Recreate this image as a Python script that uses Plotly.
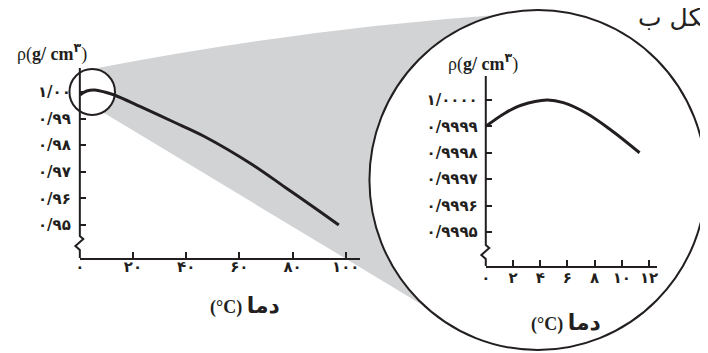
import plotly.graph_objects as go

# density of water, full range (left) and zoomed 0-12 C (right)
temp_full = [0, 2.6, 5.6, 9.3, 13, 23, 35.3, 46.5, 65.1, 77.3, 90, 97.4]
rho_full = [0.99887, 1.00038, 1.00075, 1.0000, 0.99887, 0.99436, 0.98872,
            0.98346, 0.97256, 0.96410, 0.95526, 0.95000]

temp_zoom = [0, 1.4, 2.6, 4.5, 5.7, 7.4, 9.1, 11.3]
rho_zoom = [0.99990, 0.99995, 0.99998, 1.00000, 0.99999, 0.99995, 0.99989, 0.99980]

full_xticks = [0, 20, 40, 60, 80, 100]
full_xtext = ["۰", "۲۰", "۴۰", "۶۰", "۸۰", "۱۰۰"]
full_yticks = [1.00, 0.99, 0.98, 0.97, 0.96, 0.95]
full_ytext = ["۱/۰۰", "۰/۹۹", "۰/۹۸", "۰/۹۷", "۰/۹۶", "۰/۹۵"]

zoom_xticks = [0, 2, 4, 6, 8, 10, 12]
zoom_xtext = ["۰", "۲", "۴", "۶", "۸", "۱۰", "۱۲"]
zoom_yticks = [1.0, 0.9999, 0.9998, 0.9997, 0.9996, 0.9995]
zoom_ytext = ["۱/۰۰۰۰", "۰/۹۹۹۹", "۰/۹۹۹۸", "۰/۹۹۹۷", "۰/۹۹۹۶", "۰/۹۹۹۵"]

W, H = 708, 353
OX, OY = 8, 8  # page body margin offset
INK = "#231f20"
GRAY = "#d1d3d4"
DIGITS = "DejaVu Sans"
SERIF = "Liberation Serif, DejaVu Sans"


def px(x):
    return (x - OX) / W


def py(y):
    return 1 - (y - OY) / H


def path(points):
    return "M " + " L ".join(f"{px(x):.5f},{py(y):.5f}" for x, y in points)


def bold(labels):
    return [f"<b>{t}</b>" for t in labels]


fig = go.Figure()
fig.add_trace(go.Scatter(x=temp_full, y=rho_full, mode="lines", line=dict(color=INK, width=3, shape="spline"),
                         xaxis="x", yaxis="y", hoverinfo="skip"))
fig.add_trace(go.Scatter(x=temp_zoom, y=rho_zoom, mode="lines", line=dict(color=INK, width=3, shape="spline"),
                         xaxis="x2", yaxis="y2", hoverinfo="skip"))

axis_common = dict(showgrid=False, zeroline=False, ticks="inside", ticklen=6, tickwidth=2,
                   tickcolor=INK, tickfont=dict(family=DIGITS, size=15, color=INK), fixedrange=True)

# magnifier cone + circles (drawn below the traces)
cone = (f"M {px(88):.5f},{py(69):.5f} Q {px(296):.5f},{py(29):.5f} {px(503):.5f},{py(14.5):.5f} "
        + f"L {px(538):.5f},{py(180):.5f} L {px(440):.5f},{py(316):.5f} "
        + f"L {px(100):.5f},{py(113):.5f} L {px(88):.5f},{py(92):.5f} Z")
shapes = [
    dict(type="path", xref="paper", yref="paper", path=cone, fillcolor=GRAY, line=dict(width=0), layer="below"),
    dict(type="circle", xref="paper", yref="paper", x0=px(538 - 170), x1=px(538 + 170), y0=py(180 + 170),
         y1=py(180 - 170), fillcolor="white", line=dict(color=INK, width=2), layer="below"),
    dict(type="circle", xref="paper", yref="paper", x0=px(88 - 23), x1=px(88 + 23), y0=py(92 + 23),
         y1=py(92 - 23), fillcolor="white", line=dict(color=INK, width=2), layer="below"),
    # y axes with break marks
    dict(type="path", xref="paper", yref="paper", line=dict(color=INK, width=2),
         path=path([(75.5, 68), (75.5, 236), (79, 239), (71, 246), (75.5, 250), (75.5, 258)])),
    dict(type="path", xref="paper", yref="paper", line=dict(color=INK, width=2),
         path=path([(485.5, 76), (485.5, 245), (489, 248), (481, 255), (485.5, 259), (485.5, 266)])),
]

rho_label = "ρ(<b>g/ cm</b><sup><b>۳</b></sup>)"
t_label = "<b>(°C) <span style='font-size:22px'>دما</span></b>"
annotations = [
    dict(text=rho_label, x=px(47), y=py(53)),
    dict(text=rho_label, x=px(483), y=py(63)),
    dict(text=t_label, x=px(242), y=py(305)),
    dict(text=t_label, x=px(567), y=py(322)),
]
for a in annotations:
    a.update(xref="paper", yref="paper", showarrow=False, xanchor="center", yanchor="middle",
             font=dict(family=SERIF, size=18, color=INK))
# figure caption, cut by the right edge as in the source page
annotations.append(dict(text="شکل ب", x=px(727), y=py(17), xref="paper", yref="paper", showarrow=False,
                        xanchor="right", yanchor="middle", font=dict(family=DIGITS, size=25, color=INK)))

fig.update_layout(
    width=W, height=H, margin=dict(l=0, r=0, t=0, b=0),
    paper_bgcolor="white", plot_bgcolor="rgba(0,0,0,0)", showlegend=False,
    xaxis=dict(domain=[px(75.5), px(358)], range=[0, 105.2], showline=True, linewidth=2, linecolor=INK,
               tickvals=full_xticks, ticktext=bold(full_xtext), ticklabelstandoff=-6, **axis_common),
    yaxis=dict(domain=[py(258), py(68)], range=[0.93759, 1.00902], showline=False,
               tickvals=full_yticks, ticktext=bold(full_ytext), ticklabelstandoff=8, **axis_common),
    xaxis2=dict(domain=[px(485.5), px(658)], range=[0, 12.55], anchor="y2", showline=True, linewidth=2,
                linecolor=INK, tickvals=zoom_xticks, ticktext=bold(zoom_xtext), ticklabelstandoff=-3,
                **axis_common),
    yaxis2=dict(domain=[py(266), py(76)], range=[0.999371, 1.0000909], anchor="x2", showline=False,
                tickvals=zoom_yticks, ticktext=bold(zoom_ytext), ticklabelstandoff=7, **axis_common),
    shapes=shapes, annotations=annotations,
)

fig.write_html("out.html")
